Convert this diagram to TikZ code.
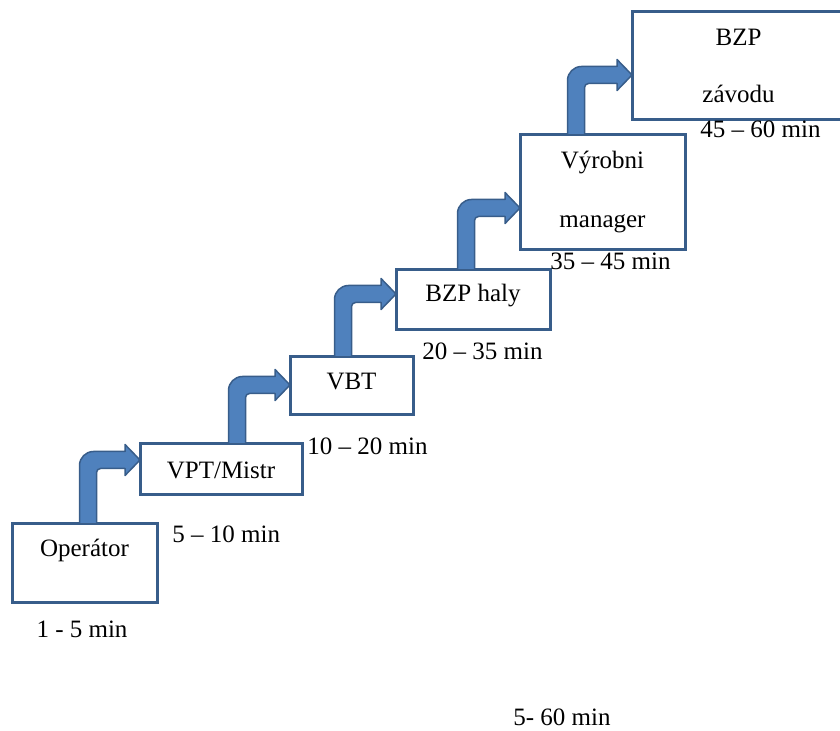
\documentclass[tikz,border=0pt]{standalone}
\usepackage{fontspec}
\setmainfont{Liberation Serif}
\usepackage{tikz}
\usetikzlibrary{calc}
\definecolor{arrowfill}{RGB}{79, 129, 189}
\definecolor{edgeblue}{RGB}{56, 93, 138}
\tikzset{
  box/.style={draw=edgeblue, line width=1.5pt, fill=white, inner sep=0pt},
  onebox/.style={box, text height=9pt, text depth=3pt},
  lbl/.style={inner sep=0pt, anchor=base west},
  arrowblue/.style={fill=arrowfill, draw=edgeblue, line width=0.75pt, line join=round}
}
% bent arrow: up from #1, then right to the tip #2
\newcommand{\steparrow}[2]{
\filldraw[arrowblue] let \p1=(#1), \p2=(#2) in
  (\x1-4.25pt,\y1) [rounded corners=7pt] -- (\x1-4.25pt,\y2+4.25pt) [sharp corners]
  -- (\x2-7.5pt,\y2+4.25pt) -- (\x2-7.5pt,\y2+7.75pt) -- (\x2,\y2)
  -- (\x2-7.5pt,\y2-7.75pt) -- (\x2-7.5pt,\y2-4.25pt) [rounded corners=2pt]
  -- (\x1+4.25pt,\y2-4.25pt) [sharp corners] -- (\x1+4.25pt,\y1) -- cycle;
}

\begin{document}
\begin{tikzpicture}[x=0.5pt, y=-0.5pt, font=\fontsize{12.5}{15}\selectfont]
    \useasboundingbox (0,0) rectangle (840,731);

    % the boxes
    \node[onebox, minimum width=72.5pt, minimum height=39pt, text depth=16pt] (op) at (84.5,563) {Operátor};
    \node[onebox, minimum width=81pt, minimum height=25.5pt, text depth=0pt] (vpt) at (221,469.5) {VPT/Mistr};
    \node[onebox, minimum width=61.5pt, minimum height=29pt, text depth=5pt] (vbt) at (351.5,386) {VBT};
    \node[onebox, minimum width=77pt, minimum height=30pt, text depth=7pt] (haly) at (473,300) {BZP haly};
    \node[box, minimum width=82.5pt, minimum height=57.5pt, align=center] (vyr) at (602.5,192.5) {Výrobni\\[14.5pt]manager};
    \node[box, minimum width=106.5pt, minimum height=54pt, align=center] (zav) at (738.5,66) {BZP\\[13.5pt]závodu};

    % times
    \node[lbl, anchor=base] (t-op) at (82,637) {1 - 5 min};
    \node[lbl] (t-vpt) at (172,542) {5 – 10 min};
    \node[lbl] (t-vbt) at (307,455) {10 – 20 min};
    \node[lbl] (t-haly) at (422,360) {20 – 35 min};
    \node[lbl] (t-vyr) at (550,270) {35 – 45 min};
    \node[lbl] (t-zav) at (700,138) {45 – 60 min};
    \node[lbl, anchor=base] (t-sum) at (562,725) {5- 60 min};

    % arrow ends on the boxes
    \coordinate (op-up) at (88,524);    \coordinate (vpt-in) at (140,460);
    \coordinate (vpt-up) at (237,444);  \coordinate (vbt-in) at (290,385);
    \coordinate (vbt-up) at (343,357);  \coordinate (haly-in) at (396,294);
    \coordinate (haly-up) at (466,270); \coordinate (vyr-in) at (520,208);
    \coordinate (vyr-up) at (576,135);  \coordinate (zav-in) at (632,75);

    \steparrow{op-up}{vpt-in}
    \steparrow{vpt-up}{vbt-in}
    \steparrow{vbt-up}{haly-in}
    \steparrow{haly-up}{vyr-in}
    \steparrow{vyr-up}{zav-in}
\end{tikzpicture}
\end{document}
